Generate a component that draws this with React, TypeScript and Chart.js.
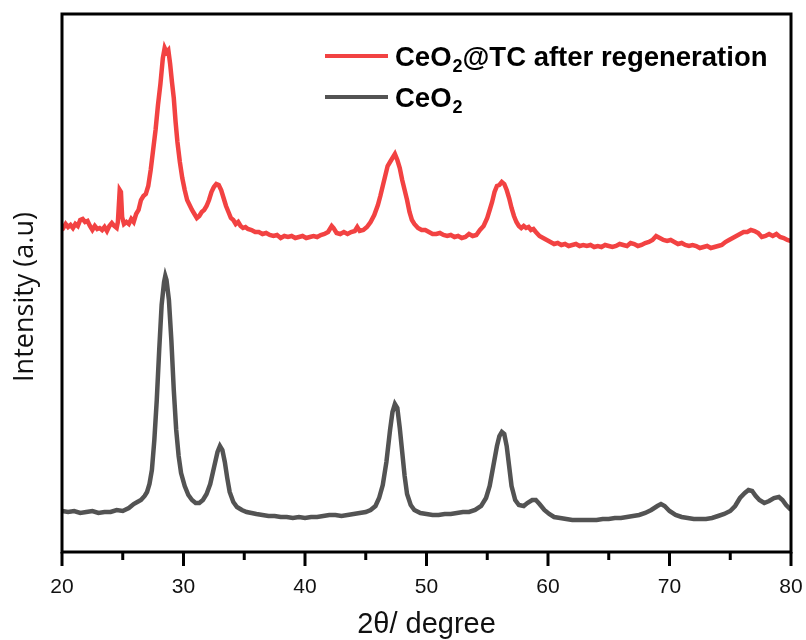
import React, { useEffect, useRef } from "react";
import { Chart, registerables } from "chart.js";

Chart.register(...registerables);

// 2θ positions (degree) and intensities (a.u.)
const regenAngles = [
  20.0, 20.3, 20.5, 20.7, 20.9, 21.1, 21.3, 21.5, 21.7, 21.9,
  22.1, 22.3, 22.5, 22.7, 22.9, 23.1, 23.3, 23.5, 23.7, 23.9,
  24.1, 24.3, 24.5, 24.6, 24.75, 24.85, 24.95, 25.1, 25.3, 25.5,
  25.7, 25.9, 26.1, 26.3, 26.5, 26.7, 26.9, 27.1, 27.3, 27.5,
  27.7, 27.9, 28.1, 28.3, 28.45, 28.6, 28.75, 28.9, 29.05, 29.2,
  29.35, 29.5, 29.7, 29.9, 30.1, 30.3, 30.5, 30.7, 30.9, 31.1,
  31.3, 31.5, 31.7, 31.9, 32.1, 32.3, 32.5, 32.7, 32.9, 33.1,
  33.3, 33.5, 33.7, 33.9, 34.1, 34.3, 34.5, 34.7, 34.9, 35.1,
  35.3, 35.6, 35.9, 36.2, 36.5, 36.8, 37.1, 37.4, 37.7, 38.0,
  38.3, 38.6, 38.9, 39.2, 39.5, 39.8, 40.1, 40.4, 40.7, 41.0,
  41.3, 41.6, 41.9, 42.2, 42.35, 42.6, 42.9, 43.2, 43.5, 43.8,
  44.1, 44.3, 44.5, 44.8, 45.1, 45.4, 45.7, 46.0, 46.2, 46.4,
  46.6, 46.8, 47.0, 47.2, 47.4, 47.6, 47.8, 48.0, 48.2, 48.4,
  48.6, 48.8, 49.0, 49.3, 49.6, 49.9, 50.2, 50.5, 50.8, 51.1,
  51.4, 51.7, 52.0, 52.3, 52.6, 52.9, 53.2, 53.5, 53.8, 54.1,
  54.4, 54.7, 55.0, 55.2, 55.4, 55.6, 55.8, 56.0, 56.2, 56.4,
  56.6, 56.8, 57.0, 57.2, 57.4, 57.6, 57.8, 58.0, 58.2, 58.4,
  58.6, 58.8, 59.0, 59.3, 59.6, 59.9, 60.2, 60.5, 60.8, 61.1,
  61.4, 61.7, 62.0, 62.3, 62.6, 62.9, 63.2, 63.5, 63.8, 64.1,
  64.4, 64.7, 65.0, 65.3, 65.6, 65.9, 66.2, 66.5, 66.8, 67.1,
  67.4, 67.7, 68.0, 68.3, 68.6, 68.9, 69.2, 69.5, 69.8, 70.1,
  70.4, 70.7, 71.0, 71.3, 71.6, 71.9, 72.2, 72.5, 72.8, 73.1,
  73.4, 73.7, 74.0, 74.3, 74.6, 74.9, 75.2, 75.5, 75.8, 76.1,
  76.4, 76.7, 77.0, 77.3, 77.6, 77.9, 78.2, 78.5, 78.8, 79.1,
  79.4, 79.7, 80.0,
];

const regenIntensity = [
  322, 328, 325, 327, 324, 328, 326, 332, 333, 330,
  331, 326, 322, 326, 323, 324, 322, 325, 321, 326,
  329, 326, 324, 330, 362, 360, 335, 328, 330, 328,
  333, 330, 338, 342, 352, 356, 358, 366, 382, 402,
  422, 447, 468, 494, 504, 500, 502, 488, 470, 454,
  430, 410, 390, 374, 362, 352, 347, 342, 338, 334,
  336, 340, 342, 346, 352, 360, 365, 368, 367, 362,
  354, 346, 340, 334, 332, 328, 330, 326, 324, 325,
  323, 322, 320, 320, 318, 319, 317, 316, 317, 314,
  316, 315, 316, 314, 315, 316, 314, 315, 316, 315,
  317, 318, 320, 326, 324, 319, 318, 320, 318, 320,
  321, 325, 321, 322, 325, 330, 337, 347, 356, 366,
  376, 386, 390, 394, 398, 392, 384, 372, 362, 352,
  340, 332, 328, 324, 322, 322, 320, 318, 318, 319,
  317, 316, 317, 315, 316, 314, 315, 318, 316, 317,
  322, 326, 334, 342, 350, 360, 366, 367, 370, 368,
  362, 354, 344, 336, 330, 326, 324, 326, 324, 325,
  322, 323, 320, 316, 314, 312, 310, 308, 309, 307,
  308, 306, 307, 308, 306, 307, 306, 307, 305, 306,
  305, 307, 306, 305, 306, 308, 307, 306, 309, 308,
  306, 307, 309, 310, 312, 316, 314, 312, 311, 312,
  310, 308, 309, 307, 306, 307, 306, 304, 305, 306,
  304, 305, 306, 307, 310, 312, 314, 316, 318, 320,
  320, 322, 321, 319, 315, 316, 318, 316, 318, 315,
  314, 312, 311,
];

const ceo2Angles = [
  20.0, 20.5, 21.0, 21.5, 22.0, 22.5, 23.0, 23.5, 24.0, 24.5,
  25.0, 25.5, 25.9, 26.2, 26.5, 26.8, 27.0, 27.2, 27.4, 27.6,
  27.8, 28.0, 28.2, 28.4, 28.5, 28.6, 28.8, 29.0, 29.2, 29.4,
  29.6, 29.8, 30.1, 30.4, 30.7, 31.0, 31.3, 31.6, 31.9, 32.2,
  32.5, 32.8, 33.0, 33.2, 33.4, 33.6, 33.8, 34.1, 34.4, 34.8,
  35.2, 35.6, 36.0, 36.5, 37.0, 37.5, 38.0, 38.5, 39.0, 39.5,
  40.0, 40.5, 41.0, 41.5, 42.0, 42.5, 43.0, 43.5, 44.0, 44.5,
  45.0, 45.4, 45.8, 46.1, 46.4, 46.7, 47.0, 47.2, 47.4, 47.6,
  47.8, 48.0, 48.2, 48.4, 48.7, 49.0, 49.5, 50.0, 50.5, 51.0,
  51.5, 52.0, 52.5, 53.0, 53.5, 54.0, 54.5, 54.9, 55.2, 55.5,
  55.8, 56.0, 56.2, 56.4, 56.6, 56.8, 57.0, 57.3, 57.6, 58.0,
  58.3, 58.7, 59.0, 59.3, 59.7, 60.1, 60.5, 61.0, 61.5, 62.0,
  62.5, 63.0, 63.5, 64.0, 64.5, 65.0, 65.5, 66.0, 66.5, 67.0,
  67.5, 68.0, 68.5, 69.0, 69.3, 69.6, 70.0, 70.5, 71.0, 71.5,
  72.0, 72.5, 73.0, 73.5, 74.0, 74.5, 75.0, 75.4, 75.8, 76.2,
  76.5, 76.8, 77.1, 77.4, 77.8, 78.2, 78.6, 79.0, 79.3, 79.6,
  80.0,
];

const ceo2Intensity = [
  41, 40, 41, 39, 40, 41, 39, 40, 40, 42,
  41, 44, 48, 50, 52, 56, 60, 68, 82, 112,
  152, 202, 247, 270, 276, 272, 252, 212, 162, 122,
  96, 79, 66, 57, 52, 49, 49, 52, 58, 68,
  84, 100, 106, 102, 90, 74, 60, 50, 45, 42,
  40, 39, 38, 37, 36, 36, 35, 35, 34, 35,
  34, 35, 35, 36, 37, 37, 36, 37, 38, 39,
  40, 42, 46, 54, 67, 90, 122, 140, 148, 144,
  124, 100, 76, 58, 47, 42, 39, 38, 37, 37,
  38, 38, 39, 40, 40, 42, 46, 54, 66, 86,
  106, 116, 120, 118, 106, 86, 66, 52, 47, 46,
  49, 52, 52, 48, 42, 38, 35, 34, 33, 32,
  32, 32, 32, 32, 33, 33, 34, 34, 35, 36,
  37, 39, 42, 46, 48, 46, 41, 37, 35, 34,
  33, 33, 33, 34, 36, 38, 41, 46, 54, 59,
  62, 61, 56, 52, 49, 51, 54, 55, 52, 47,
  42,
];

const xMin = 20;
const xMax = 80;
const xMajorStep = 10;
const xMinorStep = 5;
const yMin = 0;
const yMax = 538;

const seriesLabels = ["CeO2@TC after regeneration", "CeO2"];
const seriesColors = ["#F24242", "#535353"];
const xTitle = "2θ/ degree";
const yTitle = "Intensity (a.u)";

const decorPlugin = {
  id: "decor",
  afterDraw(chart: any) {
    const { ctx, chartArea, scales } = chart;
    const { left, right, top, bottom } = chartArea;
    const x = scales.x;
    ctx.save();
    // ticks
    ctx.strokeStyle = "#000";
    x.ticks.forEach((t: any) => {
      const px = x.getPixelForValue(t.value);
      const major = Math.round(t.value) % xMajorStep === 0;
      ctx.lineWidth = 3;
      ctx.beginPath();
      ctx.moveTo(px, bottom);
      ctx.lineTo(px, bottom + (major ? 14 : 8));
      ctx.stroke();
    });
    // frame
    ctx.lineWidth = 3;
    ctx.strokeRect(left, top, right - left, bottom - top);

    // axis titles
    ctx.fillStyle = "#111";
    ctx.font = "29px 'Liberation Sans', Arial, sans-serif";
    ctx.textAlign = "center";
    ctx.textBaseline = "alphabetic";
    ctx.fillText(xTitle, (left + right) / 2, 633);

    ctx.save();
    ctx.translate(25, 297);
    ctx.rotate(-Math.PI / 2);
    ctx.font = "27px 'Open Sans', sans-serif";
    ctx.textBaseline = "middle";
    ctx.fillText(yTitle, 0, 0);
    ctx.restore();

    // legend with subscripts
    const rows = [
      { parts: ["CeO", "2", "@TC after regeneration"], cy: 56 },
      { parts: ["CeO", "2", ""], cy: 97 },
    ];
    rows.forEach((row, i) => {
      ctx.strokeStyle = seriesColors[i];
      ctx.lineWidth = 4;
      ctx.beginPath();
      ctx.moveTo(325, row.cy);
      ctx.lineTo(388, row.cy);
      ctx.stroke();
      const base = row.cy + 10;
      let tx = 395;
      ctx.fillStyle = "#000";
      ctx.textAlign = "left";
      ctx.textBaseline = "alphabetic";
      ctx.font = "bold 27.5px 'Liberation Sans', Arial, sans-serif";
      ctx.fillText(row.parts[0], tx, base);
      tx += ctx.measureText(row.parts[0]).width;
      ctx.font = "bold 18px 'Liberation Sans', Arial, sans-serif";
      ctx.fillText(row.parts[1], tx + 1, base + 6);
      tx += ctx.measureText(row.parts[1]).width + 1;
      ctx.font = "bold 27.5px 'Liberation Sans', Arial, sans-serif";
      if (row.parts[2]) ctx.fillText(row.parts[2], tx, base);
    });
    ctx.restore();
  },
};

export default function App() {
  const ref = useRef<HTMLCanvasElement | null>(null);

  useEffect(() => {
    document.body.style.margin = "0";
    const canvas = ref.current;
    if (!canvas) return;
    const chart = new Chart(canvas, {
      type: "line",
      data: {
        datasets: [
          {
            label: seriesLabels[0],
            data: regenAngles.map((a, i) => ({ x: a, y: regenIntensity[i] })),
            borderColor: seriesColors[0],
            borderWidth: 4.5,
            pointRadius: 0,
            tension: 0,
            fill: false,
          },
          {
            label: seriesLabels[1],
            data: ceo2Angles.map((a, i) => ({ x: a, y: ceo2Intensity[i] })),
            borderColor: seriesColors[1],
            borderWidth: 4.5,
            pointRadius: 0,
            tension: 0,
            fill: false,
          },
        ],
      },
      options: {
        responsive: false,
        animation: false,
        devicePixelRatio: 1,
        layout: { padding: { top: 14, right: 15, left: 0, bottom: 0 } },
        plugins: {
          legend: { display: false },
          tooltip: { enabled: false },
          title: { display: false },
        },
        scales: {
          x: {
            type: "linear",
            min: xMin,
            max: xMax,
            grid: { display: false, drawTicks: false },
            border: { display: false },
            ticks: {
              stepSize: xMinorStep,
              autoSkip: false,
              maxRotation: 0,
              padding: 23,
              color: "#111",
              font: { family: "'Liberation Sans', Arial, sans-serif", size: 21 },
              callback: (v: any) => (Math.round(v) % xMajorStep === 0 ? String(v) : ""),
            },
            afterFit: (s: any) => {
              s.height = 88;
              s.paddingLeft = 0;
              s.paddingRight = 0;
            },
          },
          y: {
            type: "linear",
            min: yMin,
            max: yMax,
            grid: { display: false, drawTicks: false },
            border: { display: false },
            ticks: { display: false },
            afterFit: (s: any) => {
              s.width = 62;
              s.paddingTop = 0;
              s.paddingBottom = 0;
            },
          },
        },
      },
      plugins: [decorPlugin],
    });
    return () => chart.destroy();
  }, []);

  return (
    <div style={{ position: "absolute", left: 0, top: 0, width: 806, height: 640 }}>
      <canvas ref={ref} width={806} height={640} />
    </div>
  );
}
